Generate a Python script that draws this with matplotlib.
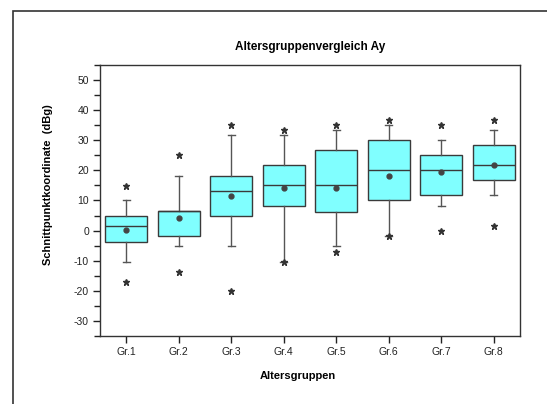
import matplotlib
matplotlib.use("Agg")
import matplotlib.pyplot as plt
from matplotlib.patches import Rectangle

plt.rcParams['font.family'] = ['Liberation Sans', 'DejaVu Sans']
plt.rcParams['axes.unicode_minus'] = False

groups = ["Gr.1", "Gr.2", "Gr.3", "Gr.4", "Gr.5", "Gr.6", "Gr.7", "Gr.8"]
q1 = [-3.7, -1.9, 4.7, 8.3, 6.3, 10.0, 11.7, 16.7]
q3 = [4.7, 6.4, 18.3, 21.7, 26.7, 30.0, 25.0, 28.3]
medians = [1.4, 6.4, 13.3, 15.0, 15.0, 20.1, 20.1, 21.7]
means = [0.3, 4.3, 11.4, 14.1, 14.3, 18.0, 19.3, 21.9]
whisker_low = [-10.3, -5.2, -5.2, -10.3, -5.2, -1.9, 8.3, 11.7]
whisker_high = [10.0, 18.3, 31.7, 31.7, 33.3, 35.0, 30.0, 33.3]
outliers = [
    [14.9, -17.0],
    [25.0, -13.7],
    [35.0, -20.2],
    [33.3, -10.3],
    [35.0, -7.0],
    [36.7, -1.9],
    [35.0, -0.2],
    [36.7, 1.4],
]

stats = []
for i, name in enumerate(groups):
    stats.append(dict(label=name, q1=q1[i], q3=q3[i], med=medians[i],
                      mean=means[i], whislo=whisker_low[i],
                      whishi=whisker_high[i], fliers=outliers[i]))

fig = plt.figure(figsize=(5.47, 4.04), dpi=100)
fig.patch.set_facecolor("white")
# outer frame of the figure panel
fig.patches.append(Rectangle((13 / 547, -0.05), 1.2, 1 - 11 / 404 + 0.05,
                             transform=fig.transFigure, fill=False,
                             edgecolor="#333333", linewidth=1.2))

ax = fig.add_axes([100 / 547, 1 - 336 / 404, 420 / 547, 271 / 404])
positions = list(range(1, len(groups) + 1))
ax.bxp(stats, positions=positions, widths=0.8, patch_artist=True,
       showmeans=True, showfliers=True, capwidths=0.13,
       boxprops=dict(facecolor="#80ffff", edgecolor="#3a3a3a", linewidth=1.0),
       medianprops=dict(color="#3a3a3a", linewidth=1.0),
       whiskerprops=dict(color="#555555", linewidth=1.0),
       capprops=dict(color="#555555", linewidth=1.0),
       meanprops=dict(marker="o", markerfacecolor="#444444",
                      markeredgecolor="#444444", markersize=3.5),
       flierprops=dict(marker="*", markerfacecolor="#333333",
                       markeredgecolor="#333333", markersize=4.5))

ax.set_xlim(0.5, 8.5)
ax.set_ylim(-35, 55)
ax.set_yticks(range(-30, 51, 10))
ax.set_yticks(range(-35, 56, 5), minor=True)
ax.set_xticks(positions)
ax.set_xticklabels(groups)
ax.tick_params(axis="both", which="major", labelsize=7.5, direction="out",
               length=5, width=1, colors="#222222", pad=3)
ax.tick_params(axis="y", which="minor", direction="out", length=4, width=1,
               colors="#222222")
for sp in ax.spines.values():
    sp.set_color("#333333")
    sp.set_linewidth(1.0)

ax.set_title("Altersgruppenvergleich Ay", fontsize=8.5, fontweight="bold",
             pad=11)
ax.set_xlabel("Altersgruppen", fontsize=8, fontweight="bold")
ax.xaxis.set_label_coords(0.47, -0.13)
ax.set_ylabel("Schnittpunktkoordinate  (dBg)", fontsize=8, fontweight="bold")
ax.yaxis.set_label_coords(-0.112, 0.56)

fig.savefig("out.png", dpi=100)
